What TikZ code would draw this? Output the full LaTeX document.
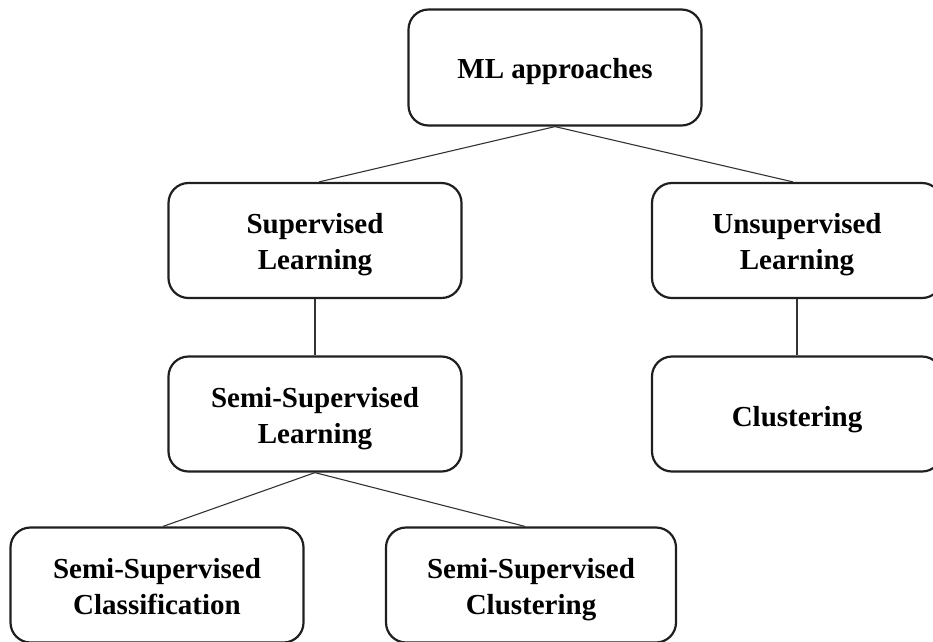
\documentclass[tikz,border=0pt]{standalone}
\usepackage{fontspec}
\setmainfont{Liberation Serif}
\begin{document}
\begin{tikzpicture}[x=1pt,y=-1pt,
  box/.style={draw=black!88, line width=2.2pt, rounded corners=20pt, fill=white,
    minimum height=115pt, inner sep=0pt},
  txt/.style={align=center, inner sep=0pt,
    font=\fontsize{29}{36}\selectfont\bfseries},
  link/.style={draw=black!80, line width=1.1pt}]
\useasboundingbox (0,0) rectangle (933,641);
\node[box, minimum width=293pt, minimum height=116pt] (ml) at (555,67.5) {};
\node[box, minimum width=293pt] (sup) at (315,240.5) {};
\node[box, minimum width=290pt] (unsup) at (797,240.5) {};
\node[box, minimum width=293pt] (semi) at (315,414) {};
\node[box, minimum width=290pt] (clus) at (797,414) {};
\node[box, minimum width=293pt] (ssc) at (157,585) {};
\node[box, minimum width=290pt] (ssclu) at (531,585) {};
\node[txt] (mlt) at ([yshift=-4pt]ml.center) {ML approaches\strut};
\node[txt] (supt) at ([yshift=-4pt]sup.center) {Supervised\strut\\Learning\strut};
\node[txt] (unsupt) at ([yshift=-4pt]unsup.center) {Unsupervised\strut\\Learning\strut};
\node[txt] (semit) at ([yshift=-4pt]semi.center) {Semi-Supervised\strut\\Learning\strut};
\node[txt] (clust) at ([yshift=-5pt]clus.center) {Clustering\strut};
\node[txt] (ssct) at ([yshift=-4pt]ssc.center) {Semi-Supervised\strut\\Classification\strut};
\node[txt] (ssclut) at ([yshift=-4pt]ssclu.center) {Semi-Supervised\strut\\Clustering\strut};
\draw[link] (ml.south) -- ([xshift=4pt]sup.north);
\draw[link] (ml.south) -- ([xshift=-4pt]unsup.north);
\draw[link] (sup.south) -- (semi.north);
\draw[link] (unsup.south) -- (clus.north);
\draw[link] (semi.south) -- ([xshift=6pt]ssc.north);
\draw[link] (semi.south) -- ([xshift=-6pt]ssclu.north);
\end{tikzpicture}
\end{document}
